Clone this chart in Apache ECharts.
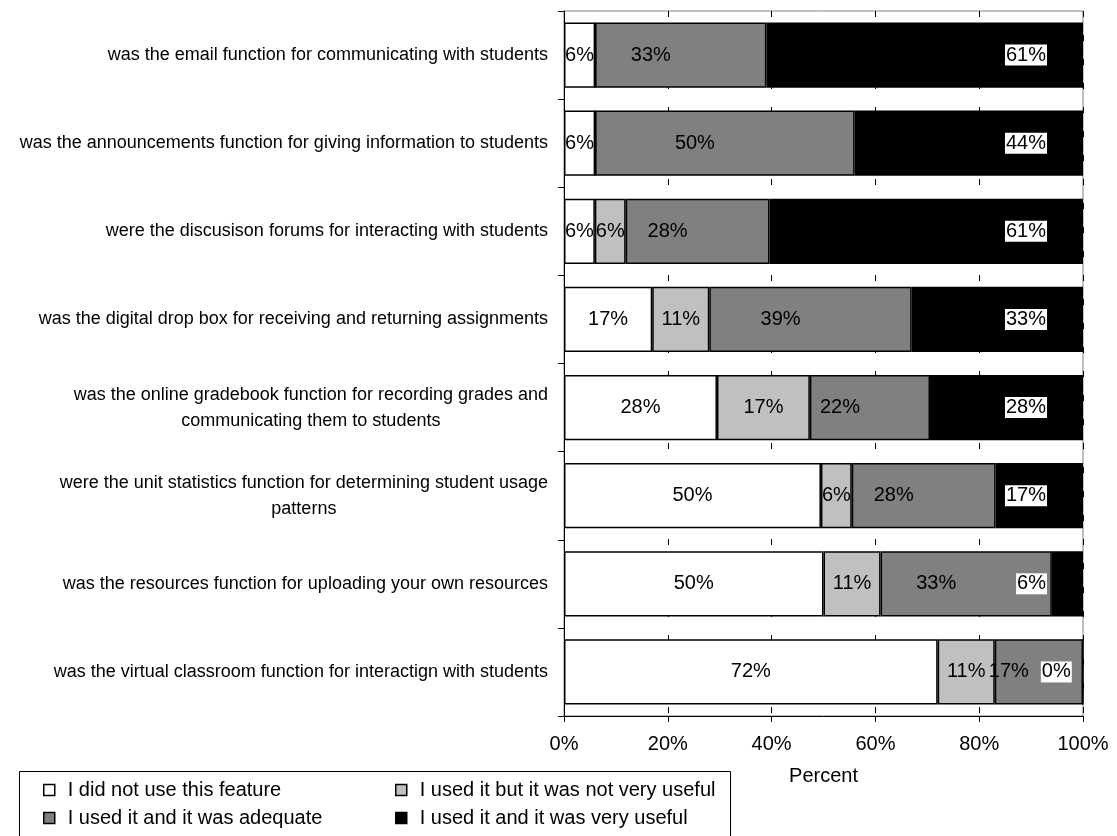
<!DOCTYPE html>
<html>
<head>
<meta charset="utf-8">
<script src="https://cdn.jsdelivr.net/npm/echarts@6/dist/echarts.min.js"></script>
<style>
  html, body { margin: 0; padding: 0; background: #fff; }
  #chart { width: 1117px; height: 836px; }
</style>
</head>
<body>
<div id="chart"></div>
<script>
// categories, top to bottom
var categories = [
  'was the email function for communicating with students',
  'was the announcements function for giving information to students',
  'were the discusison forums for interacting with students',
  'was the digital drop box for receiving and returning assignments',
  'was the online gradebook function for recording grades and\ncommunicating them to students',
  'were the unit statistics function for determining student usage\npatterns',
  'was the resources function for uploading your own resources',
  'was the virtual classroom function for interactign with students'
];
var seriesNames = [
  'I did not use this feature',
  'I used it but it was not very useful',
  'I used it and it was adequate',
  'I used it and it was very useful'
];
// percentages as printed on the bars (blank cells = null)
var notUsed    = [6, 6, 6, 17, 28, 50, 50, 72];
var notUseful  = [null, null, 6, 11, 17, 6, 11, 11];
var adequate   = [33, 50, 28, 39, 22, 28, 33, 17];
var veryUseful = [61, 44, 61, 33, 28, 17, 6, 0];
var xTicks = [0, 20, 40, 60, 80, 100];

var rows = [notUsed, notUseful, adequate, veryUseful];
var fills = ['#ffffff', '#c0c0c0', '#808080', '#000000'];

// 100% stacked: each bar is scaled by its row total
var totals = categories.map(function (c, i) {
  var s = 0;
  rows.forEach(function (r) { s += r[i] || 0; });
  return s;
});

var FONT = 'Liberation Sans, Arial, sans-serif';

var series = rows.map(function (vals, k) {
  var lbl = {
    show: true,
    position: 'inside',
    color: '#000',
    fontFamily: FONT,
    fontSize: 20,
    formatter: function (p) {
      var v = vals[p.dataIndex];
      return v == null ? '' : v + '%';
    }
  };
  if (k === 2) {
    // labels of the "adequate" bars sit left of centre in the original
    lbl.offset = [-30, 0];
  }
  if (k === 3) {
    lbl.position = 'insideRight';
    lbl.distance = 36;
    lbl.backgroundColor = '#fff';
    lbl.padding = [1, 1, 0, 1];
  }
  return {
    name: seriesNames[k],
    type: 'bar',
    stack: 'all',
    barCategoryGap: '26%',
    itemStyle: { color: fills[k], borderColor: '#000', borderWidth: 1.5 },
    label: lbl,
    emphasis: { disabled: true },
    data: vals.map(function (v, i) {
      var item = { value: v == null ? 0 : v / totals[i] * 100 };
      if (k === 3 && v === 0) item.label = { distance: 12 };
      return item;
    })
  };
});

function legendBlock(names, left) {
  return {
    data: names,
    orient: 'vertical',
    left: left, top: 779,
    padding: 0,
    itemGap: 6,
    icon: 'rect', itemWidth: 11, itemHeight: 11,
    itemStyle: { borderColor: '#000', borderWidth: 1.5 },
    textStyle: { fontFamily: FONT, fontSize: 20, lineHeight: 22, color: '#000', padding: [0, 0, 0, 8] },
    selectedMode: false
  };
}

var chart = echarts.init(document.getElementById('chart'));
chart.setOption({
  animation: false,
  backgroundColor: '#fff',
  grid: {
    left: 564, right: 34, top: 11, bottom: 120,
    show: true, borderColor: '#808080', borderWidth: 1
  },
  xAxis: {
    type: 'value',
    min: xTicks[0], max: xTicks[xTicks.length - 1], interval: 20,
    name: 'Percent',
    nameLocation: 'middle',
    nameGap: 50,
    nameTextStyle: { fontFamily: FONT, fontSize: 20, color: '#000' },
    axisLine: { show: true, lineStyle: { color: '#000', width: 1 } },
    axisTick: { show: true, length: 6, lineStyle: { color: '#000' } },
    axisLabel: { formatter: '{value}%', fontFamily: FONT, fontSize: 20, color: '#000', margin: 18 },
    splitLine: { show: true, lineStyle: { color: '#000', type: [6, 18], width: 1 } }
  },
  yAxis: {
    type: 'category',
    inverse: true,
    data: categories,
    axisLine: { show: true, lineStyle: { color: '#000', width: 1 } },
    axisTick: { show: true, length: 6, lineStyle: { color: '#000' } },
    axisLabel: {
      interval: 0,
      color: '#000', margin: 16, align: 'right',
      formatter: function (v) {
        return v.split('\n').map(function (l) { return '{c|' + l + '}'; }).join('\n');
      },
      rich: {
        c: { align: 'center', fontFamily: FONT, fontSize: 18, lineHeight: 26, color: '#000' }
      }
    }
  },
  legend: [
    legendBlock([seriesNames[0], seriesNames[2]], 43),
    legendBlock([seriesNames[1], seriesNames[3]], 395)
  ],
  graphic: [{
    type: 'rect',
    left: 17, top: 769,
    shape: { width: 711, height: 80 },
    style: { fill: 'none', stroke: '#000', lineWidth: 1 }
  }],
  series: series
});
</script>
</body>
</html>
